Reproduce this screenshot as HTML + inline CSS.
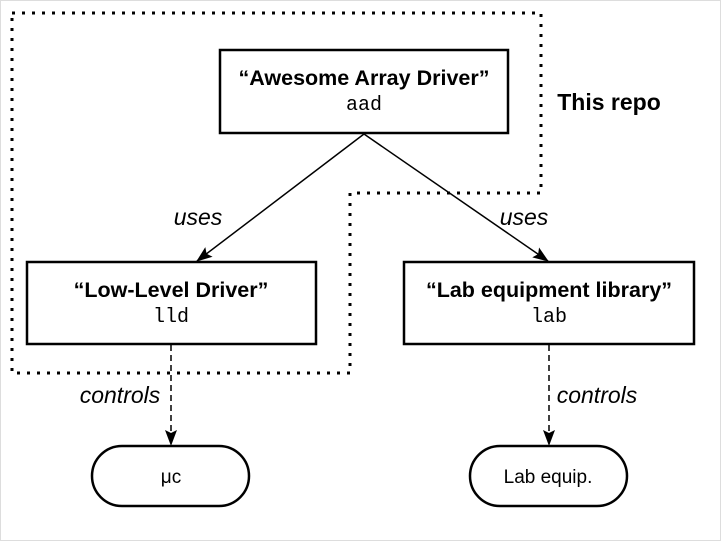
<!DOCTYPE html>
<html><head><meta charset="utf-8"><style>
html,body{margin:0;padding:0;background:#fff}
svg{display:block}
</style></head><body>
<svg width="721" height="541" viewBox="0 0 721 541" xmlns="http://www.w3.org/2000/svg">
<defs>
<marker id="ah2" markerWidth="16" markerHeight="14" refX="15" refY="7" orient="auto" markerUnits="userSpaceOnUse">
<path d="M0,1 L16,7 L0,13 L3,7 z" fill="#000"/>
</marker>
</defs>
<rect x="0.5" y="0.5" width="720" height="540" fill="none" stroke="#bbb" stroke-width="1" stroke-dasharray="1 1"/>
<path d="M12,13 L541,13 L541,193 L350,193 L350,373 L12,373 Z" fill="none" stroke="#000" stroke-width="3" stroke-dasharray="3 7"/>
<rect x="220" y="50" width="288" height="83" fill="#fff" stroke="#000" stroke-width="2.5"/>
<rect x="27" y="262" width="289" height="82" fill="#fff" stroke="#000" stroke-width="2.5"/>
<rect x="404" y="262" width="290" height="82" fill="#fff" stroke="#000" stroke-width="2.5"/>
<line x1="364" y1="134" x2="197" y2="261" stroke="#000" stroke-width="1.5" marker-end="url(#ah2)"/>
<line x1="364" y1="134" x2="548" y2="261" stroke="#000" stroke-width="1.5" marker-end="url(#ah2)"/>
<line x1="171" y1="345" x2="171" y2="445" stroke="#000" stroke-width="1.5" stroke-dasharray="6 4" marker-end="url(#ah2)"/>
<line x1="549" y1="345" x2="549" y2="445" stroke="#000" stroke-width="1.5" stroke-dasharray="6 4" marker-end="url(#ah2)"/>
<rect x="92" y="446" width="157" height="60" rx="30" fill="#fff" stroke="#000" stroke-width="2.5"/>
<rect x="470" y="446" width="157" height="60" rx="30" fill="#fff" stroke="#000" stroke-width="2.5"/>
<g font-family="Liberation Sans, sans-serif" text-anchor="middle">
<text x="364" y="85" font-size="21.5" font-weight="bold">“Awesome Array Driver”</text>
<text x="364" y="110" font-size="20" font-family="Liberation Mono, monospace">aad</text>
<text x="171" y="297" font-size="21.5" font-weight="bold">“Low-Level Driver”</text>
<text x="171" y="322" font-size="20" font-family="Liberation Mono, monospace">lld</text>
<text x="549" y="297" font-size="21.5" font-weight="bold">“Lab equipment library”</text>
<text x="549" y="322" font-size="20" font-family="Liberation Mono, monospace">lab</text>
<text x="171" y="483" font-size="19">μc</text>
<text x="548" y="483" font-size="19">Lab equip.</text>
<text x="609" y="110" font-size="23" font-weight="bold">This repo</text>
<text x="198" y="225" font-size="23" font-style="italic">uses</text>
<text x="524" y="225" font-size="23" font-style="italic">uses</text>
<text x="120" y="403" font-size="23" font-style="italic">controls</text>
<text x="597" y="403" font-size="23" font-style="italic">controls</text>
</g>
</svg>
</body></html>
